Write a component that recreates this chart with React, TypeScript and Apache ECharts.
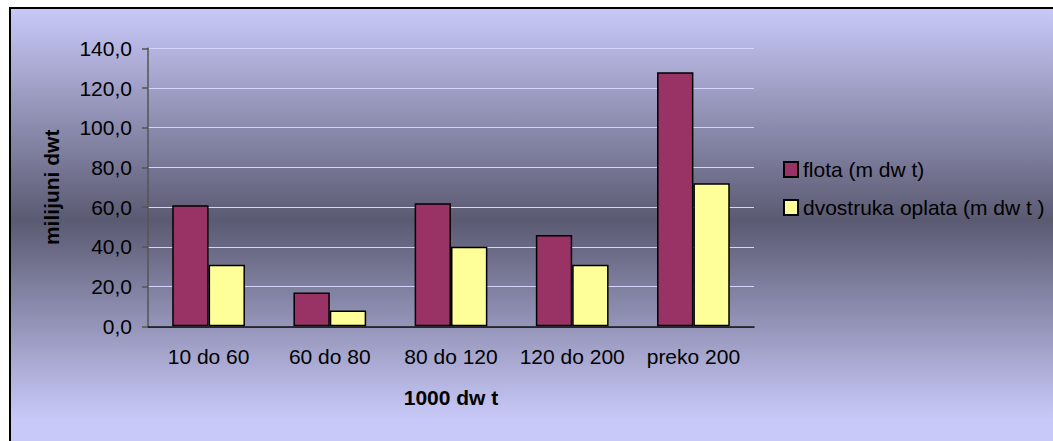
import React, { useEffect, useRef } from "react";
import * as echarts from "echarts";

// Tonnage classes (thousand dwt)
const categories = ["10 do 60", "60 do 80", "80 do 120", "120 do 200", "preko 200"];
// Fleet total, millions dwt
const flota = [61, 17, 62, 46, 128];
// Double-hull share, millions dwt
const dvostrukaOplata = [31, 8, 40, 31, 72];
// Value axis ticks
const yTicks = [0, 20, 40, 60, 80, 100, 120, 140];

const seriesNames = ["flota (m dw t)", "dvostruka oplata (m dw t )"];
const FONT = "'Liberation Sans', Arial, sans-serif";

export default function App() {
  const ref = useRef<HTMLDivElement>(null);

  useEffect(() => {
    if (!ref.current) return;
    const chart = echarts.init(ref.current, undefined, { renderer: "svg" });
    chart.setOption({
      animation: false,
      backgroundColor: new echarts.graphic.LinearGradient(0, 0, 0, 1, [
        { offset: 0, color: "#c9c9f9" },
        { offset: 0.49, color: "#5a5a72" },
        { offset: 0.95, color: "#c9c9f9" },
        { offset: 1, color: "#c9c9f9" },
      ]),
      textStyle: { fontFamily: FONT, color: "#000" },
      grid: { left: 137, top: 39.3, width: 606, height: 278 },
      legend: {
        orient: "vertical",
        left: 772,
        top: 150,
        padding: 0,
        itemWidth: 14,
        itemHeight: 15,
        itemGap: 17,
        icon: "rect",
        textStyle: { fontFamily: FONT, fontSize: 21, color: "#000" },
        data: seriesNames,
      },
      xAxis: {
        type: "category",
        data: categories,
        name: "1000 dw t",
        nameLocation: "middle",
        nameGap: 71,
        nameTextStyle: {
          fontFamily: FONT,
          fontSize: 21,
          fontWeight: "bold",
          color: "#000",
          verticalAlign: "middle",
        },
        axisLine: { lineStyle: { color: "#000", width: 1.5 } },
        axisTick: { length: 6, lineStyle: { color: "#444", width: 1.5 } },
        axisLabel: { interval: 0, margin: 20, fontSize: 21, color: "#000", fontFamily: FONT },
      },
      yAxis: {
        type: "value",
        min: yTicks[0],
        max: yTicks[yTicks.length - 1],
        interval: yTicks[1] - yTicks[0],
        name: "milijuni dwt",
        nameLocation: "middle",
        nameGap: 97,
        nameRotate: 90,
        nameTextStyle: {
          fontFamily: FONT,
          fontSize: 21,
          fontWeight: "bold",
          color: "#000",
          verticalAlign: "middle",
        },
        axisLine: { show: true, lineStyle: { color: "#555", width: 1.5 } },
        axisTick: { show: true, length: 6, lineStyle: { color: "#555", width: 1.5 } },
        axisLabel: {
          margin: 16,
          fontSize: 21,
          color: "#000",
          fontFamily: FONT,
          formatter: (v: number) => v.toFixed(1).replace(".", ","),
        },
        splitLine: { lineStyle: { color: "#d4d4ff", width: 1 } },
      },
      series: [
        {
          name: seriesNames[0],
          type: "bar",
          data: flota,
          barGap: "0%",
          barCategoryGap: "40%",
          itemStyle: { color: "#993366", borderColor: "#000", borderWidth: 1.5 },
        },
        {
          name: seriesNames[1],
          type: "bar",
          data: dvostrukaOplata,
          barGap: "0%",
          barCategoryGap: "40%",
          itemStyle: { color: "#ffff99", borderColor: "#000", borderWidth: 1.5 },
        },
      ],
    });
    return () => chart.dispose();
  }, []);

  return (
    <div
      style={{
        position: "fixed",
        left: 9,
        top: 7,
        borderLeft: "2px solid #000",
        borderTop: "2px solid #000",
      }}
    >
      <div ref={ref} style={{ width: 1042, height: 432 }} />
    </div>
  );
}
